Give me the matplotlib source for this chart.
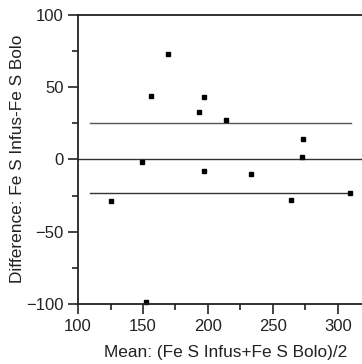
import matplotlib
matplotlib.use("Agg")
import matplotlib.pyplot as plt
from matplotlib.ticker import MultipleLocator

plt.rcParams['font.family'] = ['Liberation Sans', 'DejaVu Sans']

mean_vals = [169, 156, 149, 197, 193, 214, 273, 272, 197, 233, 125, 264, 309, 152]
diff_vals = [73, 44, -2, 43, 33, 27, 14, 1.5, -8, -10, -29, -28, -23, -99]
bias = 0
upper_loa = 25
lower_loa = -23.5
loa_x = [109, 310]

fig = plt.figure(figsize=(3.62, 3.64), dpi=100)
ax = fig.add_axes([0.2155, 0.165, 0.7845, 0.794])
ax.set_xlim(100, 318.5)
ax.set_ylim(-100, 100)

ax.axhline(bias, color='#333333', lw=1.0)
ax.plot(loa_x, [upper_loa, upper_loa], color='#555555', lw=1.0)
ax.plot(loa_x, [lower_loa, lower_loa], color='#333333', lw=1.0)
ax.plot(mean_vals, diff_vals, 's', color='black', ms=2.8, clip_on=False)

for s in ['left', 'bottom', 'top']:
    ax.spines[s].set_linewidth(1.3)
    ax.spines[s].set_color('#222222')
ax.spines['right'].set_visible(False)

ax.xaxis.set_major_locator(MultipleLocator(50))
ax.xaxis.set_minor_locator(MultipleLocator(25))
ax.yaxis.set_major_locator(MultipleLocator(50))
ax.yaxis.set_minor_locator(MultipleLocator(25))
ax.tick_params(which='major', length=7, width=1.2, labelsize=12, colors='#222222')
ax.tick_params(which='minor', length=4, width=1.2, colors='#222222')
ax.tick_params(top=False, right=False)

fig.text(226 / 362, 1 - 352.5 / 364, 'Mean: (Fe S Infus+Fe S Bolo)/2',
         fontsize=12.4, ha='center', va='center', color='#222222')
fig.text(18 / 362, 1 - 159 / 364, 'Difference: Fe S Infus-Fe S Bolo',
         fontsize=12.4, ha='center', va='center', rotation=90, color='#222222')

fig.savefig('out.png', dpi=100)
